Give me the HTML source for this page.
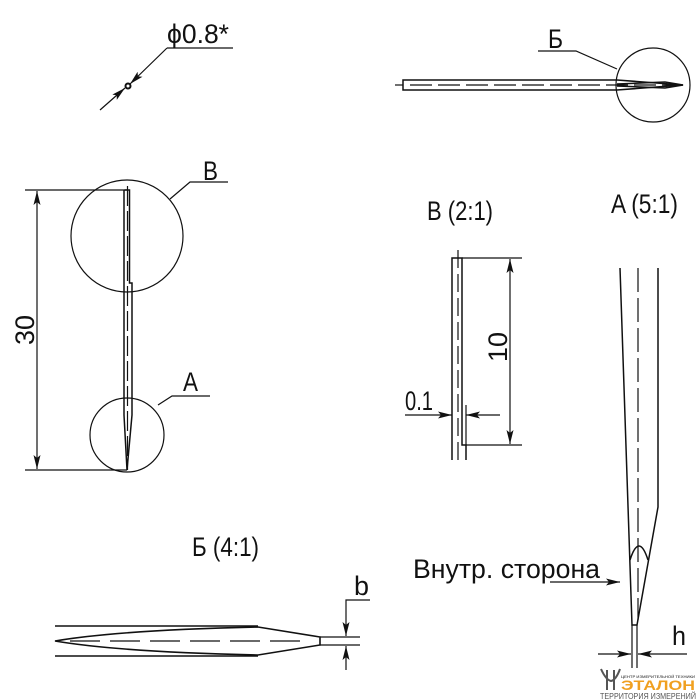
<!DOCTYPE html>
<html><head><meta charset="utf-8"><style>body{margin:0;background:#fff}svg{display:block}text{font-family:"Liberation Sans","DejaVu Sans",sans-serif;fill:#111}</style></head><body>
<svg width="700" height="700" viewBox="0 0 700 700" xmlns="http://www.w3.org/2000/svg">
<defs><marker id="a" viewBox="0 0 14 7" refX="14" refY="3.5" markerWidth="14" markerHeight="7" markerUnits="userSpaceOnUse" orient="auto"><path d="M0,0L14,3.5L0,7L3,3.5z" fill="#111"/></marker></defs>
<g stroke="#111" stroke-width="1.2" fill="none">
<!-- phi -->
<line x1="233" y1="48" x2="167" y2="48"/>
<line x1="167" y1="48" x2="130" y2="84" marker-end="url(#a)"/>
<line x1="100" y1="110" x2="125" y2="88" marker-end="url(#a)"/>
<circle cx="128" cy="86" r="2.5" stroke-width="2"/>
<!-- top needle -->
<line x1="395" y1="85" x2="403" y2="85"/>
<path d="M403,80H617L683,85L617,90H403Z" stroke-width="1.5"/>
<path d="M617,84L665,82L683,85L665,88L617,86" stroke-width="1.5"/>
<line x1="410" y1="85" x2="680" y2="85" stroke-dasharray="22,6"/>
<circle cx="653" cy="85" r="37"/>
<polyline points="617,69 576,51 538,51"/>
<!-- left needle -->
<path d="M124.5,190H129.5V283H132V415L127,470L124,415V190" stroke-width="1.5"/>
<line x1="127.5" y1="186" x2="127.5" y2="470" stroke-dasharray="20,5"/>
<circle cx="127" cy="236" r="56"/>
<circle cx="127" cy="435" r="37"/>
<polyline points="170,199 190,182 228,182"/>
<polyline points="158,405 172,396 210,396"/>
<line x1="25" y1="190" x2="127" y2="190"/><line x1="25" y1="470" x2="127" y2="470"/>
<line x1="37" y1="330" x2="37" y2="191" marker-end="url(#a)"/>
<line x1="37" y1="330" x2="37" y2="469" marker-end="url(#a)"/>
<!-- B 2:1 -->
<path d="M452,460V258H462V445H466V460" stroke-width="1.5"/>
<line x1="458" y1="250" x2="458" y2="460" stroke-dasharray="18,6"/>
<line x1="462" y1="258" x2="522" y2="258"/><line x1="466" y1="445" x2="522" y2="445"/>
<line x1="510" y1="350" x2="510" y2="259" marker-end="url(#a)"/>
<line x1="510" y1="350" x2="510" y2="444" marker-end="url(#a)"/>
<line x1="405" y1="415" x2="452" y2="415" marker-end="url(#a)"/>
<line x1="500" y1="415" x2="466" y2="415" marker-end="url(#a)"/>
<line x1="466" y1="405" x2="466" y2="445"/>
<!-- A 5:1 -->
<path d="M620,268L632,625H637L658,507V268" stroke-width="1.5"/>
<line x1="638" y1="268" x2="638" y2="620" stroke-dasharray="24,6"/>
<path d="M630,560Q639,532 648,560" stroke-width="1.5"/>
<line x1="632" y1="625" x2="632" y2="668"/><line x1="637" y1="625" x2="637" y2="668"/>
<line x1="598" y1="654" x2="631" y2="654" marker-end="url(#a)"/>
<line x1="687" y1="654" x2="638" y2="654" marker-end="url(#a)"/>
<line x1="550" y1="582" x2="620" y2="582" marker-end="url(#a)"/>
<!-- Б 4:1 -->
<line x1="55" y1="626" x2="258" y2="626" stroke-width="1.6"/>
<line x1="55" y1="656" x2="258" y2="656" stroke-width="1.6"/>
<path d="M55,641Q120,630 258,627L320,637V645L258,655Q120,652 55,641Z" stroke-width="1.6"/>
<line x1="70" y1="641" x2="300" y2="641" stroke-dasharray="30,10"/>
<line x1="320" y1="637" x2="360" y2="637"/><line x1="320" y1="645" x2="360" y2="645"/>
<polyline points="370,600 346,600 346,636" marker-end="url(#a)"/>
<line x1="346" y1="670" x2="346" y2="646" marker-end="url(#a)"/>
</g>
<g font-size="27">
<text x="167" y="43" textLength="62" lengthAdjust="spacingAndGlyphs">ϕ0.8*</text>
<text x="548" y="48" textLength="15" lengthAdjust="spacingAndGlyphs">Б</text>
<text x="203" y="180" textLength="15" lengthAdjust="spacingAndGlyphs">B</text>
<text x="183" y="391" textLength="15" lengthAdjust="spacingAndGlyphs">A</text>
<text transform="translate(34,345) rotate(-90)" textLength="30" lengthAdjust="spacingAndGlyphs">30</text>
<text x="427" y="220" textLength="66" lengthAdjust="spacingAndGlyphs">B (2:1)</text>
<text x="611" y="213" textLength="67" lengthAdjust="spacingAndGlyphs">A (5:1)</text>
<text transform="translate(507,362) rotate(-90)" textLength="30" lengthAdjust="spacingAndGlyphs">10</text>
<text x="405" y="410" textLength="28" lengthAdjust="spacingAndGlyphs">0.1</text>
<text x="413" y="578" textLength="187" lengthAdjust="spacingAndGlyphs">Внутр. сторона</text>
<text x="672" y="645" textLength="14" lengthAdjust="spacingAndGlyphs">h</text>
<text x="192" y="556" textLength="67" lengthAdjust="spacingAndGlyphs">Б (4:1)</text>
<text x="354" y="595" textLength="15" lengthAdjust="spacingAndGlyphs">b</text>
</g>
<text x="621" y="678" font-size="4" textLength="74" lengthAdjust="spacingAndGlyphs">ЦЕНТР ИЗМЕРИТЕЛЬНОЙ ТЕХНИКИ</text>
<text x="621" y="690" font-size="14" font-weight="bold" style="fill:#f0a020" textLength="74" lengthAdjust="spacingAndGlyphs">ЭТАЛОН</text>
<text x="600" y="699" font-size="8" style="fill:#555" textLength="96" lengthAdjust="spacingAndGlyphs">ТЕРРИТОРИЯ ИЗМЕРЕНИЙ</text>
<path d="M601,669Q606,680 611,681Q616,680 620,669M607,670V690M614,670V690" stroke="#555" stroke-width="2" fill="none"/>
</svg>
</body></html>
